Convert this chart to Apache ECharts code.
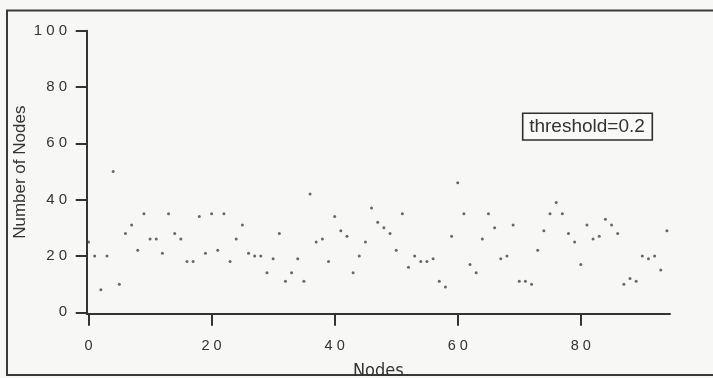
<!DOCTYPE html>
<html>
<head>
<meta charset="utf-8">
<title>Number of Nodes</title>
<script src="https://cdn.jsdelivr.net/npm/echarts@6/dist/echarts.min.js"></script>
<style>
  html, body { margin: 0; padding: 0; background: #f7f7f5; }
  #chart { width: 713px; height: 378px; }
</style>
</head>
<body>
<div id="chart"></div>
<script>
// Node index on the x axis (0..94)
const nodeIds = [
  0, 1, 2, 3, 4, 5, 6, 7, 8, 9,
  10, 11, 12, 13, 14, 15, 16, 17, 18, 19,
  20, 21, 22, 23, 24, 25, 26, 27, 28, 29,
  30, 31, 32, 33, 34, 35, 36, 37, 38, 39,
  40, 41, 42, 43, 44, 45, 46, 47, 48, 49,
  50, 51, 52, 53, 54, 55, 56, 57, 58, 59,
  60, 61, 62, 63, 64, 65, 66, 67, 68, 69,
  70, 71, 72, 73, 74, 75, 76, 77, 78, 79,
  80, 81, 82, 83, 84, 85, 86, 87, 88, 89,
  90, 91, 92, 93, 94
];

// Number of nodes counted for each node at threshold 0.2
const nodeCounts = [
  25, 20, 8, 20, 50, 10, 28, 31, 22, 35,
  26, 26, 21, 35, 28, 26, 18, 18, 34, 21,
  35, 22, 35, 18, 26, 31, 21, 20, 20, 14,
  19, 28, 11, 14, 19, 11, 42, 25, 26, 18,
  34, 29, 27, 14, 20, 25, 37, 32, 30, 28,
  22, 35, 16, 20, 18, 18, 19, 11, 9, 27,
  46, 35, 17, 14, 26, 35, 30, 19, 20, 31,
  11, 11, 10, 22, 29, 35, 39, 35, 28, 25,
  17, 31, 26, 27, 33, 31, 28, 10, 12, 11,
  20, 19, 20, 15, 29
];

// Tick positions and labels
const xTicks = [0, 20, 40, 60, 80];
const yTicks = [0, 20, 40, 60, 80, 100];

const xTitle = 'Nodes';
const yTitle = 'Number of Nodes';
const noteText = 'threshold=0.2';

const points = nodeIds.map((id, i) => [id, nodeCounts[i]]);

// Digits are drawn spaced out, as on the printed axes
const spaced = v => String(v).split('').join(' ');

const ink = '#333333';

const chart = echarts.init(document.getElementById('chart'), null, { renderer: 'canvas' });

chart.setOption({
  backgroundColor: '#f7f7f5',
  animation: false,
  grid: {
    left: 86.7,
    right: 43,
    top: 30.7,
    bottom: 64.3,
    containLabel: false,
    outerBoundsMode: 'none'
  },
  xAxis: {
    type: 'value',
    min: -0.3,
    max: 94.5,
    name: xTitle,
    nameLocation: 'middle',
    nameGap: 49,
    nameTextStyle: {
      fontFamily: '"Liberation Sans Narrow", "DejaVu Sans Condensed", "Liberation Sans", sans-serif',
      fontSize: 18,
      color: ink
    },
    axisLine: { onZero: false, lineStyle: { color: ink, width: 2 } },
    axisTick: {
      show: true,
      customValues: xTicks,
      length: 12,
      lineStyle: { color: ink, width: 2 }
    },
    axisLabel: {
      customValues: xTicks,
      formatter: spaced,
      margin: 24.5,
      fontFamily: '"Liberation Sans", Arial, sans-serif',
      fontSize: 14.5,
      color: ink
    },
    splitLine: { show: false }
  },
  yAxis: {
    type: 'value',
    min: -0.5,
    max: 100,
    name: yTitle,
    nameLocation: 'middle',
    nameGap: 58,
    nameMoveOverlap: false,
    nameTextStyle: {
      fontFamily: '"Liberation Sans", Arial, sans-serif',
      fontSize: 17,
      color: ink
    },
    axisLine: { show: true, onZero: false, lineStyle: { color: ink, width: 2 } },
    axisTick: {
      show: true,
      customValues: yTicks,
      length: 11,
      lineStyle: { color: ink, width: 2 }
    },
    axisLabel: {
      customValues: yTicks,
      formatter: spaced,
      margin: 19.5,
      fontFamily: '"Liberation Sans", Arial, sans-serif',
      fontSize: 15,
      color: ink
    },
    splitLine: { show: false }
  },
  series: [{
    type: 'scatter',
    data: points,
    symbol: 'circle',
    symbolSize: 3,
    itemStyle: { color: '#444444' },
    silent: true
  }],
  graphic: [
    {
      // outer frame
      type: 'rect',
      shape: { x: 7, y: 10.5, width: 720, height: 364.5 },
      style: { fill: null, stroke: '#3a3a3a', lineWidth: 2 },
      silent: true
    },
    {
      type: 'rect',
      shape: { x: 522.7, y: 113.3, width: 129.6, height: 26.7 },
      style: { fill: '#f9f9f7', stroke: '#2f2f2f', lineWidth: 1.6 },
      silent: true,
      z: 10
    },
    {
      type: 'text',
      x: 587,
      y: 127,
      style: {
        text: noteText,
        fontFamily: '"Liberation Sans", Arial, sans-serif',
        fontSize: 19,
        fill: ink,
        align: 'center',
        verticalAlign: 'middle'
      },
      silent: true,
      z: 11
    }
  ]
});
</script>
</body>
</html>
